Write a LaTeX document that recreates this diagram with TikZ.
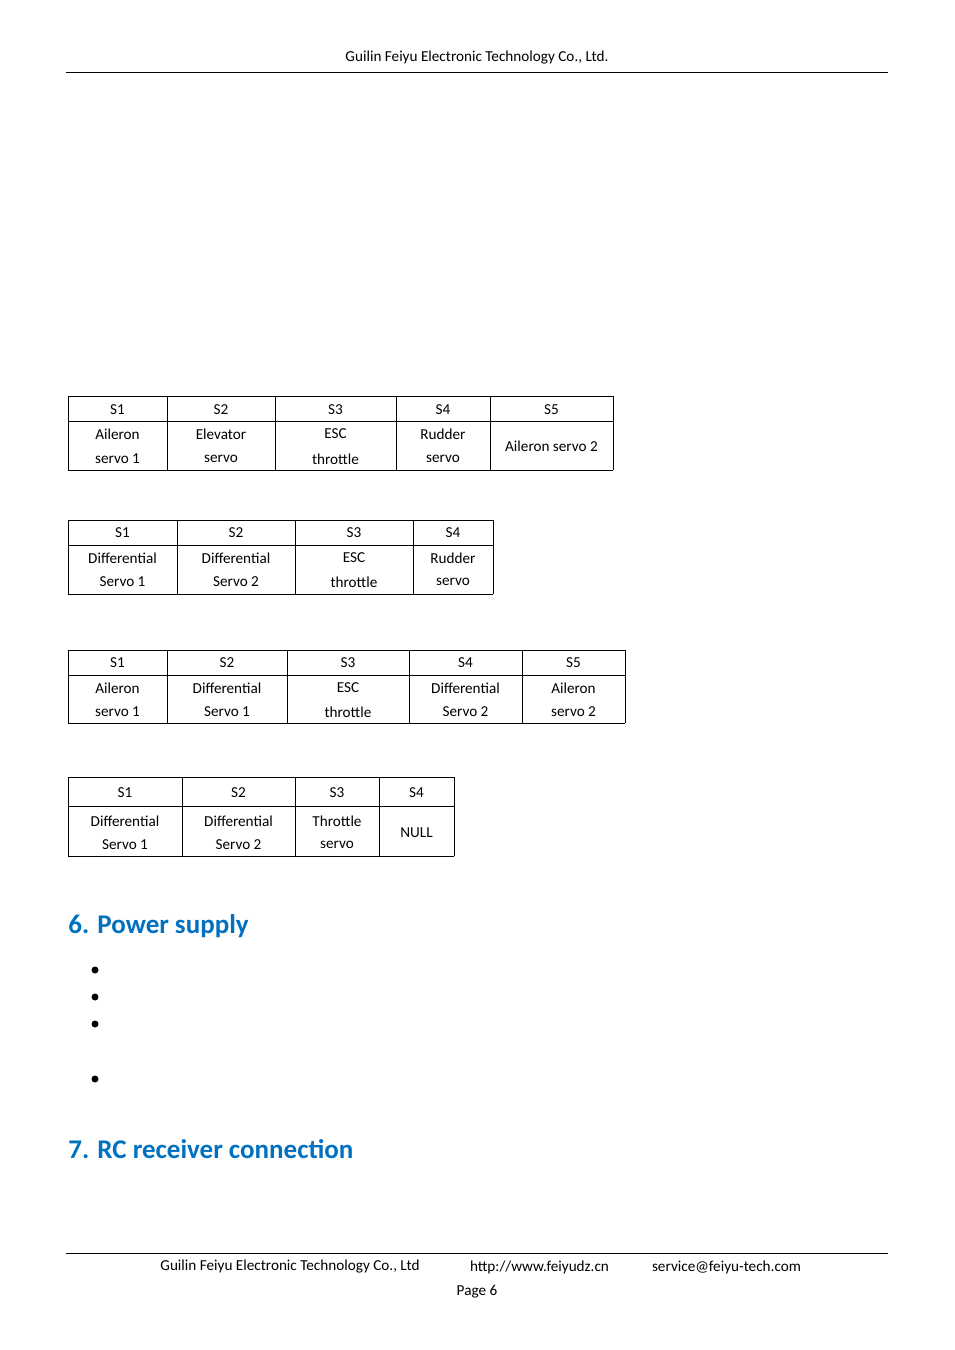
\documentclass[tikz,border=0pt]{standalone}
\usepackage{fontspec}
\setmainfont{Carlito}
\usetikzlibrary{positioning}
\definecolor{headblue}{RGB}{0,112,192}
\tikzset{
  cell/.style={font=\fontsize{7.6}{9}\selectfont, inner sep=0pt, align=center},
  grid/.style={line width=0.5pt},
  heading/.style={font=\fontsize{13.5}{16}\selectfont\bfseries, text=headblue, anchor=west, inner sep=0pt},
  bullet/.style={circle, fill=black, inner sep=0pt, minimum size=3.5pt}
}
\begin{document}
\begin{tikzpicture}[x=0.5pt,y=-0.5pt]
  \useasboundingbox (0,0) rectangle (954,1350);

  % Header
  \node[cell] (header) at (477,58) {Guilin Feiyu Electronic Technology Co., Ltd.};
  \draw[grid] (66,72) -- (888,72);

  % Table 1
  \foreach \x in {68,167,275,396,490,613} \draw[grid] (\x,396) -- (\x,470);
  \draw[grid] (68,396) -- (613,396);
  \draw[grid] (68,421) -- (613,421);
  \draw[grid] (68,470) -- (613,470);
  \foreach \cx/\h/\a/\b [count=\i] in {117.5/S1/Aileron/servo 1,221/S2/Elevator/servo,335.5/S3/ESC/throttle/servo,443/S4/Rudder/servo} {
    \node[cell] (ta\i) at (\cx,410) {\h};
    \node[cell] (tb\i) at (\cx,434) {\a};
    \node[cell] (tc\i) at (\cx,459) {\b};
  }
  \node[cell] (ta5) at (551.5,410) {S5};
  \node[cell] (tb5) at (551.5,446) {Aileron servo 2};

  % Table 2
  \foreach \x in {68,177,295,413,493} \draw[grid] (\x,520) -- (\x,594);
  \draw[grid] (68,520) -- (493,520);
  \draw[grid] (68,545) -- (493,545);
  \draw[grid] (68,594) -- (493,594);
  \foreach \cx/\h/\a/\b [count=\i] in {122.5/S1/Differential/Servo 1,236/S2/Differential/Servo 2,354/S3/ESC/throttle/servo,453/S4/Rudder/servo} {
    \node[cell] (ua\i) at (\cx,533) {\h};
    \node[cell] (ub\i) at (\cx,558) {\a};
    \node[cell] (uc\i) at (\cx,582) {\b};
  }

  % Table 3
  \foreach \x in {68,167,287,409,522,625} \draw[grid] (\x,650) -- (\x,723);
  \draw[grid] (68,650) -- (625,650);
  \draw[grid] (68,675) -- (625,675);
  \draw[grid] (68,723) -- (625,723);
  \foreach \cx/\h/\a/\b [count=\i] in {117.5/S1/Aileron/servo 1,227/S2/Differential/Servo 1,348/S3/ESC/throttle/servo,465.5/S4/Differential/Servo 2,573.5/S5/Aileron/servo 2} {
    \node[cell] (va\i) at (\cx,663) {\h};
    \node[cell] (vb\i) at (\cx,688) {\a};
    \node[cell] (vc\i) at (\cx,712) {\b};
  }

  % Table 4
  \foreach \x in {68,182,295,379,454} \draw[grid] (\x,777) -- (\x,856);
  \draw[grid] (68,777) -- (454,777);
  \draw[grid] (68,806) -- (454,806);
  \draw[grid] (68,856) -- (454,856);
  \foreach \cx/\h/\a/\b [count=\i] in {125/S1/Differential/Servo 1,238.5/S2/Differential/Servo 2,337/S3/Throttle/servo} {
    \node[cell] (wa\i) at (\cx,793) {\h};
    \node[cell] (wb\i) at (\cx,821) {\a};
    \node[cell] (wc\i) at (\cx,845) {\b};
  }
  \node[cell] (wa4) at (416.5,793) {S4};
  \node[cell] (wb4) at (416.5,833) {NULL};

  % Sections
  \node[heading] (power) at (68,926) {6. Power supply};
  \foreach \y [count=\i] in {970,997,1024,1079} \node[bullet] (dot\i) at (95,\y) {};
  \node[heading] (rc) at (68,1149) {7. RC receiver connection};

  % Footer
  \draw[grid] (66,1253) -- (888,1253);
  \node[cell] (foot1) at (290,1267) {Guilin Feiyu Electronic Technology Co., Ltd};
  \node[cell] (foot2) at (539.5,1267) {http://www.feiyudz.cn};
  \node[cell] (foot3) at (726.5,1267) {service@feiyu-tech.com};
  \node[cell] (page) at (477,1292) {Page 6};
\end{tikzpicture}
\end{document}
